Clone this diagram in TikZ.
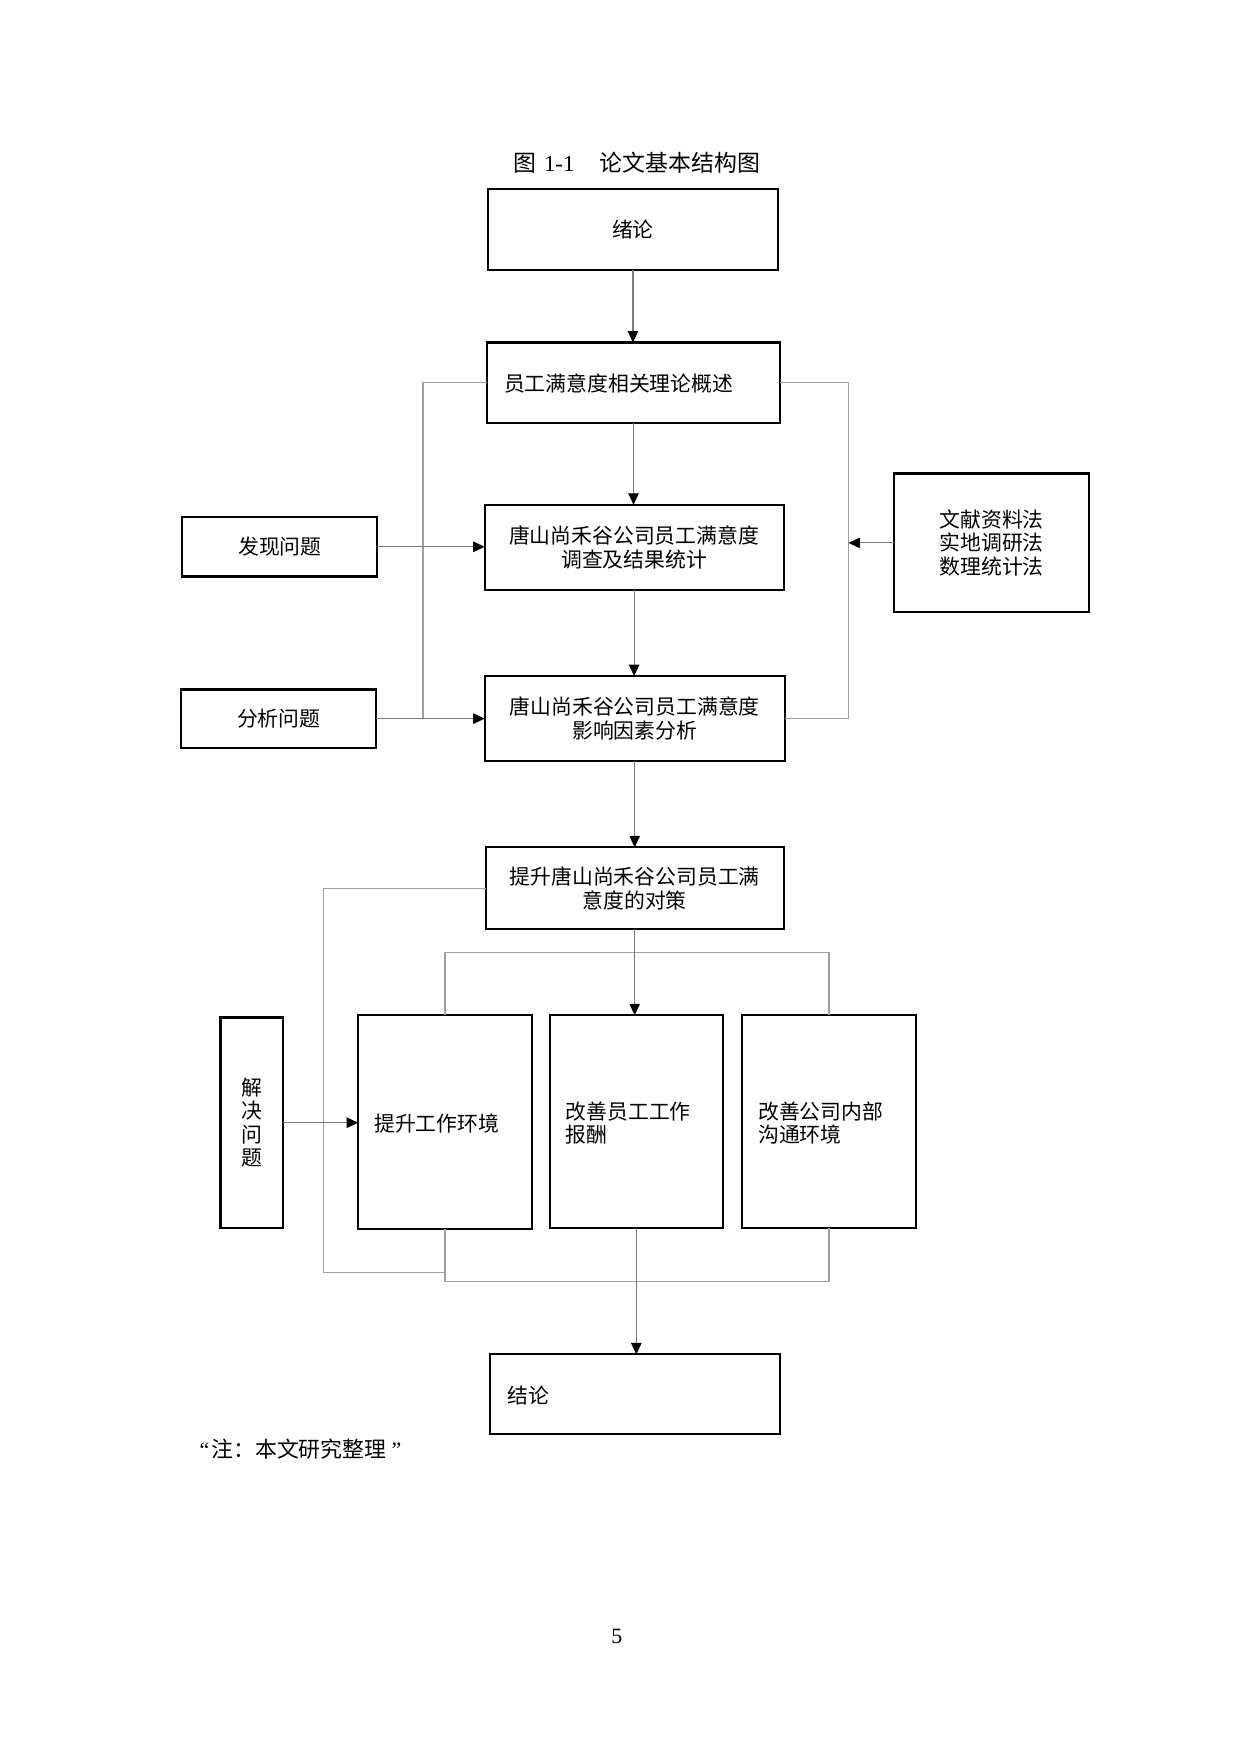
\documentclass[tikz,border=0pt]{standalone}
\usepackage{fontspec}
\setmainfont{Liberation Serif}
\newfontfamily\cjk{Noto Sans CJK SC}
\usetikzlibrary{arrows.meta}
\definecolor{shaft}{HTML}{7A7A7A}
\definecolor{brk}{HTML}{A0A0A0}
\begin{document}
\begin{tikzpicture}[x=0.53727pt,y=-0.53727pt,
  box/.style={draw=black,line width=1pt,inner sep=0pt,outer sep=0pt,fill=white},
  sz/.style 2 args={minimum width=#1*0.53727pt,minimum height=#2*0.53727pt},
  txt/.style={font=\fontsize{10pt}{11.3pt}\selectfont\cjk,align=center,inner sep=0pt},
  ltxt/.style={txt,anchor=west,align=left},
  arr/.style={draw=shaft,line width=0.55pt,-{Triangle[length=5.5pt,width=5pt,color=black]}},
  gl/.style={draw=brk,line width=0.6pt}]
\useasboundingbox[fill=white] (0,0) rectangle (1108,1567);

% title
\node[inner sep=0pt,font=\fontsize{11pt}{13pt}\selectfont] (title) at (569,145)
  {{\cjk 图}\hspace{3.5pt}1-1\hspace{12pt}{\cjk 论文基本结构图}};

% main column
\node[box,sz={259}{72},txt] (b1) at (565.5,205) {绪论};
\node[box,sz={262}{72}] (b2) at (566,342) {};
\node[ltxt] (t2) at (450,343) {员工满意度相关理论概述};
\node[box,sz={267}{76},txt] (b3) at (566.5,489) {唐山尚禾谷公司员工满意度\\调查及结果统计};
\node[box,sz={268}{76},txt] (b4) at (567,642) {唐山尚禾谷公司员工满意度\\影响因素分析};
\node[box,sz={266}{73},txt] (b5) at (567,793.5) {提升唐山尚禾谷公司员工满\\意度的对策};

% side boxes
\node[box,sz={174}{53},txt] (fx) at (250,488.5) {发现问题};
\node[box,sz={174}{52},txt] (fx2) at (249,642) {分析问题};
\node[box,sz={174}{124},txt] (meth) at (886,485) {文献资料法\\实地调研法\\数理统计法};
\node[box,sz={56}{188},txt] (jj) at (225,1003) {解\\决\\问\\题};

% measures
\node[box,sz={155}{191}] (c1) at (397.5,1002.5) {};
\node[ltxt] (tc1) at (334,1004) {提升工作环境};
\node[box,sz={155}{190}] (c2) at (568.5,1002) {};
\node[ltxt] (tc2) at (505,1003.5) {改善员工工作\\报酬};
\node[box,sz={155}{190}] (c3) at (740.5,1002) {};
\node[ltxt] (tc3) at (677,1003.5) {改善公司内部\\沟通环境};

% conclusion
\node[box,sz={259}{71}] (jl) at (567.5,1245.5) {};
\node[ltxt] (tjl) at (453,1247) {结论};

% note and page number
\node[anchor=west,inner sep=0pt,font=\fontsize{10.5pt}{12pt}\selectfont] (note) at (178,1295)
  {“\hspace{1pt}{\cjk 注：本文研究整理}\hspace{2.5pt}”};
\node[inner sep=0pt,font=\fontsize{10.5pt}{12pt}\selectfont] (page) at (551,1462) {5};

% gray bracket lines
\coordinate (lx) at (378,642);
\coordinate (rx) at (758,642);
\coordinate (dl) at (289,1137);
\coordinate (top) at (0,851);
\coordinate (bot) at (0,1145);
\draw[gl] (b2.west) -| (lx);
\draw[gl] (b2.east) -| (rx) -- (rx -| b4.east);
\draw[gl] (b5.west) -| (dl) -- (dl -| c1.south);
\draw[gl] (c1.north) -- (c1.north |- top) -- (c3.north |- top) -- (c3.north);
\draw[gl] (c1.south) -- (c1.south |- bot) -- (c3.south |- bot) -- (c3.south);

% arrows
\draw[arr] (b1.south) -- (b1.south |- b2.north);
\draw[arr] (b2.south) -- (b2.south |- b3.north);
\draw[arr] (b3.south) -- (b3.south |- b4.north);
\draw[arr] (b4.south) -- (b4.south |- b5.north);
\draw[arr] (b5.south) -- (b5.south |- c2.north);
\draw[arr] (c2.south) -- (c2.south |- jl.north);
\draw[arr] (fx.east) -- (fx.east -| b3.west);
\draw[arr] (fx2.east) -- (fx2.east -| b4.west);
\draw[arr] (meth.west) -- (meth.west -| rx);
\draw[arr] (jj.east) -- (jj.east -| c1.west);
\end{tikzpicture}
\end{document}
